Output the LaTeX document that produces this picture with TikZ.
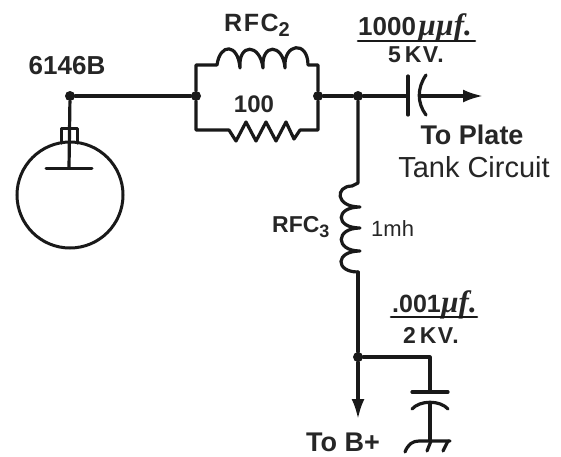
\documentclass[tikz,border=0pt]{standalone}
\usepackage{fontspec}
\setmainfont{Liberation Sans}
\newfontfamily\serifit{Liberation Serif}
\newfontfamily\spaced[LetterSpace=6]{Liberation Sans Bold}
\usetikzlibrary{arrows.meta}
\tikzset{
  x=1pt,y=-1pt,
  wire/.style={line width=3.2pt,line cap=round,line join=round,black!90},
  thin wire/.style={line width=3pt,line cap=round,line join=round,black!90},
  dotj/.style={circle,fill=black!90,inner sep=0pt,minimum size=10pt},
  lab/.style={inner sep=0pt,text=black!85},
  feed/.style={wire,-{Latex[length=20pt,width=13pt]}},
}
\begin{document}
\begin{tikzpicture}
\useasboundingbox (0,0) rectangle (561,456);
% tube
\node[circle,draw=black!90,line width=3pt,minimum size=106pt,inner sep=0pt] (tube) at (70,195) {};
\coordinate (plate) at (69,168);
\draw[thin wire] (46,168) -- (92,168);
\draw[thin wire] (61,143) -- (61,128) -- (77,128) -- (77,143);
% junctions
\node[dotj] (ja) at (70,96) {};
\node[dotj] (jb) at (196,96) {};
\node[dotj] (jc) at (318,96) {};
\node[dotj] (jd) at (358,96) {};
\node[dotj] (je) at (358,357) {};
\draw[wire] (ja) -- (plate);
\draw[wire] (ja) -- (jb);
\draw[wire] (jc) -- (jd);
% RFC2 coil
\coordinate (c2l) at (217,65);
\coordinate (c2r) at (308,65);
\draw[wire] (jb) -- (196,65) -- (c2l)
  .. controls (220,43) and (238,43) .. (240,68)
  .. controls (238,43) and (260,43) .. (263,68)
  .. controls (261,43) and (283,43) .. (285,68)
  .. controls (283,43) and (308,40) .. (c2r)
  -- (318,65) -- (jc);
% resistor
\coordinate (r1) at (229,130);
\coordinate (r2) at (300,130);
\draw[wire] (jb) -- (196,130) -- (r1) -- (236,141) -- (246,122) -- (256,141) -- (266,122) -- (276,141) -- (286,122) -- (294,139) -- (r2) -- (318,130) -- (jc);
% output capacitor
\coordinate (capA) at (408,96);
\coordinate (capB) at (421,96);
\coordinate (outp) at (483,96);
\draw[wire] (jd) -- (capA);
\draw[wire] (408,76) -- (408,115);
\draw[wire] (426,75) .. controls (417,88) and (417,103) .. (426,115);
\draw[feed] (capB) -- (outp);
% RFC3 coil
\coordinate (c3t) at (358,183);
\coordinate (c3b) at (358,272);
\draw[wire] (jd) -- (c3t) -- (352,186)
  .. controls (335,186) and (335,207) .. (360,207)
  .. controls (335,207) and (335,228) .. (360,228)
  .. controls (335,228) and (335,251) .. (360,251)
  .. controls (335,251) and (335,272) .. (c3b);
\draw[wire] (c3b) -- (je);
% lower
\coordinate (bp) at (358,419);
\draw[feed] (je) -- (bp);
\coordinate (c4) at (430,357);
\coordinate (c4a) at (430,391);
\coordinate (c4b) at (430,403);
\coordinate (gnd) at (430,440);
\draw[wire] (je) -- (c4) -- (c4a);
\draw[wire] (412,392) -- (448,392);
\draw[wire] (412,409) .. controls (420,400) and (440,400) .. (448,409);
\draw[wire] (c4b) -- (gnd);
\draw[wire] (405,452) .. controls (408,444) and (413,441) .. (419,441) -- (450,441);
\draw[wire] (431,441) -- (427,451);
\draw[wire] (448,441) -- (443,451);
% labels
\node[lab,font=\bfseries\fontsize{26}{26}\selectfont] (l1) at (67,66) {6146B};
\node[lab,font=\spaced\fontsize{25}{25}\selectfont,anchor=west] (l2) at (224,25) {RFC\raisebox{-5pt}{\fontsize{20}{20}\selectfont 2}};
\node[lab,font=\bfseries\fontsize{24}{24}\selectfont] (l3) at (254,104) {100};
\node[lab,font=\bfseries\fontsize{23}{23}\selectfont,anchor=west] (l4) at (272,227) {RFC\raisebox{-5pt}{\fontsize{18}{18}\selectfont 3}};
\node[lab,font=\fontsize{22}{22}\selectfont,anchor=west] (l5) at (371,229) {1mh};
\node[lab,font=\bfseries\fontsize{27}{27}\selectfont] (l6) at (472,135) {To Plate};
\node[lab,font=\fontsize{29}{29}\selectfont] (l7) at (474,167) {Tank Circuit};
\node[lab,font=\bfseries\fontsize{27}{27}\selectfont] (l8) at (343,442) {To B+};
\node[lab,font=\bfseries\fontsize{26}{26}\selectfont,anchor=west] (l9) at (358,28) {1000\hspace{2pt}{\serifit\itshape\fontsize{31}{31}\selectfont µµf.}};
\draw[wire,line width=2.6pt] (358,41) -- (475,41);
\node[lab,font=\spaced\fontsize{23}{23}\selectfont] (l10) at (416,55) {5\,KV.};
\node[lab,font=\bfseries\fontsize{25}{25}\selectfont,anchor=west] (l11) at (392,305) {.001{\serifit\itshape\fontsize{31}{31}\selectfont µf.}};
\draw[wire,line width=2.6pt] (391,317) -- (477,317);
\node[lab,font=\spaced\fontsize{23}{23}\selectfont] (l12) at (431,335) {2\,KV.};
\end{tikzpicture}
\end{document}
